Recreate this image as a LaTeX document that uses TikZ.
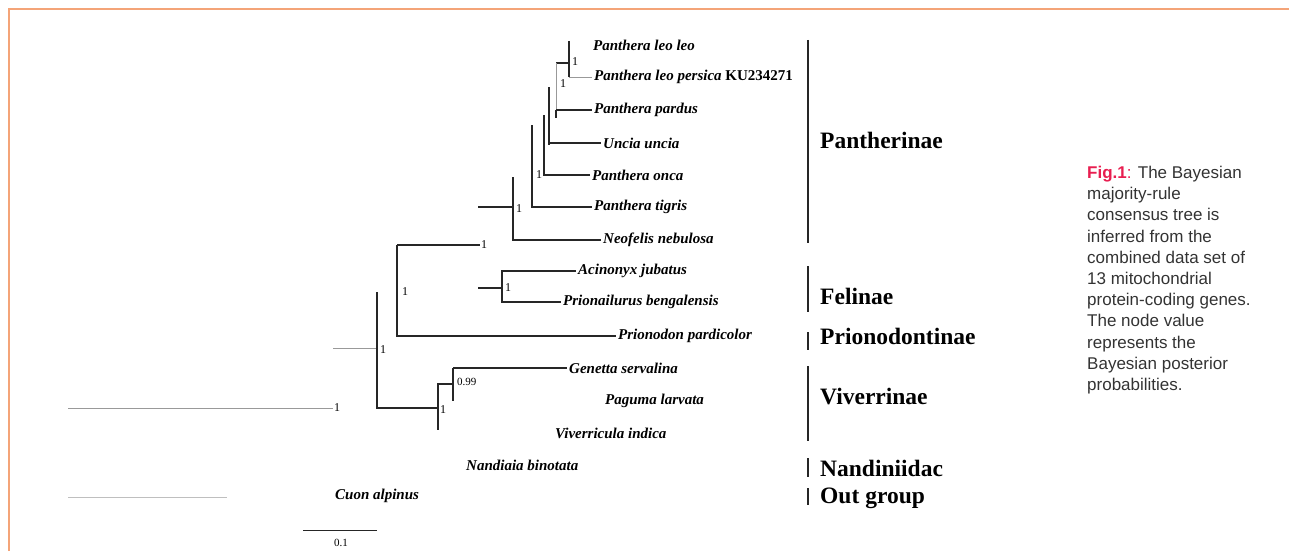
\documentclass[tikz,border=0pt]{standalone}
\usepackage{fontspec}
\setmainfont{Liberation Serif}
\newfontfamily\capfont{Liberation Sans}
\definecolor{framecol}{RGB}{244,164,120}
\definecolor{figred}{RGB}{232,30,80}
\definecolor{captext}{RGB}{51,51,51}

\begin{document}
\begin{tikzpicture}[x=1pt,y=-1pt,
    branch/.style={line width=1.1pt, black!85},
    faint/.style={line width=0.8pt, black!40},
    taxon/.style={anchor=west, inner sep=2pt, font=\fontsize{15}{17}\selectfont\bfseries\itshape},
    clade/.style={anchor=west, inner sep=0pt, font=\fontsize{23.5}{26}\selectfont\bfseries},
    post/.style={anchor=west, inner sep=1pt, font=\fontsize{12}{13}\selectfont}]
    \useasboundingbox (0,0) rectangle (1289,551);

    % Cadre
    \draw[framecol, line width=2pt] (9,551) -- (9,9.5) -- (1289,9.5);

    % Taxons
    \node[taxon] (leo) at (591,45) {Panthera leo leo};
    \node[taxon] (persica) at (592,77) {Panthera leo persica {\upshape KU234271}};
    \node[taxon] (pardus) at (592,110) {Panthera pardus};
    \node[taxon] (uncia) at (601,143) {Uncia uncia};
    \node[taxon] (onca) at (590,175) {Panthera onca};
    \node[taxon] (tigris) at (592,207) {Panthera tigris};
    \node[taxon] (neofelis) at (601,240) {Neofelis nebulosa};
    \node[taxon] (acinonyx) at (576,271) {Acinonyx jubatus};
    \node[taxon] (prionailurus) at (561,302) {Prionailurus bengalensis};
    \node[taxon] (prionodon) at (616,336) {Prionodon pardicolor};
    \node[taxon] (genetta) at (567,368) {Genetta servalina};
    \node[taxon] (paguma) at (603,401) {Paguma larvata};
    \node[taxon] (viverricula) at (553,433) {Viverricula indica};
    \node[taxon] (nandinia) at (464,465) {Nandiaia binotata};
    \node[taxon] (cuon) at (333,496) {Cuon alpinus};

    % Points de branchement
    \coordinate (leoN) at (569,63);
    \coordinate (pardN) at (556,63);
    \coordinate (uncN) at (549,87);
    \coordinate (oncN) at (544,115);
    \coordinate (tigN) at (532,125);
    \coordinate (neoN) at (513,177);
    \coordinate (panStem) at (478,207);
    \coordinate (felN) at (397,245);
    \coordinate (felinN) at (502,288);
    \coordinate (felinStem) at (478,288);
    \coordinate (vivN) at (377,292);
    \coordinate (vivStem) at (333,348);
    \coordinate (vivCrown) at (438,408);
    \coordinate (genN) at (453,384);
    \coordinate (rootL) at (68,408);
    \coordinate (cuonL) at (68,497);
    \coordinate (cuonR) at (227,497);
    \coordinate (barL) at (303,530);
    \coordinate (barR) at (377,530);

    % Valeurs des noeuds
    \node[post] (pLeo) at (571,62) {1};
    \node[post] (pPard) at (559,84) {1};
    \node[post] (pOnca) at (535,175) {1};
    \node[post] (pPan) at (515,209) {1};
    \node[post] (pFel) at (480,245) {1};
    \node[post] (pCarn) at (401,292) {1};
    \node[post] (pFelin) at (504,288) {1};
    \node[post] (pViv) at (379,350) {1};
    \node[post] (pCrown) at (439,410) {1};
    \node[post, font=\fontsize{11}{12}\selectfont] (pGen) at (456,382) {0.99};
    \node[post] (pRoot) at (333,408) {1};
    \node[font=\fontsize{11}{12}\selectfont] (scale) at (341,543) {0.1};

    % Panthera
    \draw[branch] (leoN) ++(0,-22) -- (leoN |- persica.west);
    \draw[faint] (leoN |- persica.west) -- (persica.west);
    \draw[branch] (leoN) -- (pardN);
    \draw[faint] (pardN) -- (pardN |- pardus.west);
    \draw[branch] (pardN |- pardus.west) -- (pardus.west);
    \draw[branch] (pardN |- pardus.west) -- ++(0,8);
    \draw[branch] (uncN) -- ([yshift=-2pt]uncN |- uncia.west);
    \draw[branch] (uncN |- uncia.west) -- (uncia.west);
    \draw[branch] (oncN) |- (onca.west);
    \draw[branch] (tigN) |- (tigris.west);
    \draw[branch] (neoN) |- (neofelis.west);
    \draw[branch] (panStem) -- (neoN |- panStem);

    % Felidae
    \draw[branch] (felN) -- (pFel.west);
    \draw[branch] (felN) |- (prionodon.west);
    \draw[branch] (felinN) |- (acinonyx.west);
    \draw[branch] (felinN) |- (prionailurus.west);
    \draw[branch] (felinStem) -- (felinN);

    % Viverridae
    \draw[faint] (vivStem) -- (vivN |- vivStem);
    \draw[branch] (vivN) |- (vivCrown);
    \draw[branch] ([yshift=25pt]vivCrown) -- ([yshift=-22pt]vivCrown);
    \draw[branch] (vivCrown |- genN) -- (genN);
    \draw[branch] (genN |- genetta.west) -- (genN |- paguma.west);
    \draw[branch] (genN |- genetta.west) -- (genetta.west);

    % Racine et groupe externe
    \draw[faint] (rootL) -- (pRoot.west);
    \draw[line width=0.8pt, black!25] (cuonL) -- (cuonR);
    \draw[branch, line width=0.8pt] (barL) -- (barR);

    % Clades
    \draw[branch] (808,40) -- (808,243);
    \draw[branch] (808,266) -- (808,312);
    \draw[branch] (808,332) -- (808,350);
    \draw[branch] (808,366) -- (808,441);
    \draw[branch] (808,458) -- (808,477);
    \draw[branch] (808,488) -- (808,505);
    \node[clade] (panth) at (820,140) {Pantherinae};
    \node[clade] (felin) at (820,296) {Felinae};
    \node[clade] (prion) at (820,336) {Prionodontinae};
    \node[clade] (viver) at (820,397) {Viverrinae};
    \node[clade] (nandi) at (820,468) {Nandiniidac};
    \node[clade] (outg) at (820,498) {Out group};

    % Legende
    \node[anchor=north west, inner sep=0pt, align=left, text=captext,
          font=\capfont\fontsize{17}{21.2}\selectfont] (legend) at (1087,166)
        {{\color{figred}\textbf{Fig.1}:} The Bayesian\\majority-rule\\consensus tree is\\inferred from the\\combined data set of\\13 mitochondrial\\protein-coding genes.\\The node value\\represents the\\Bayesian posterior\\probabilities.};
\end{tikzpicture}
\end{document}
